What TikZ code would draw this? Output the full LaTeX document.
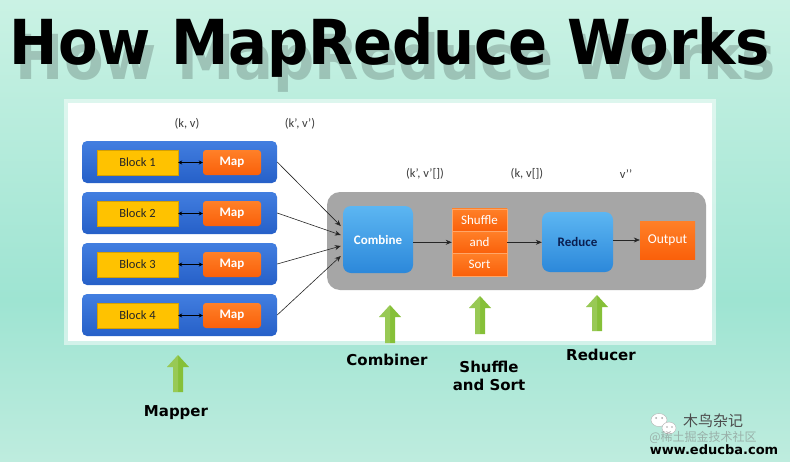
\documentclass[tikz,border=0pt]{standalone}
\usepackage{fontspec}
\usepackage{graphicx}
\setmainfont{Carlito}
\newfontfamily\titlefont{DejaVu Sans}
\newfontfamily\cjk{Noto Sans CJK SC}
\usetikzlibrary{arrows.meta,calc}
\definecolor{bgT}{RGB}{202,242,228}
\definecolor{bgM}{RGB}{158,228,210}
\definecolor{bgB}{RGB}{190,236,222}
\definecolor{mblueT}{RGB}{66,126,224}
\definecolor{mblueB}{RGB}{38,96,200}
\definecolor{yel}{RGB}{255,194,0}
\definecolor{yelD}{RGB}{214,160,0}
\definecolor{orgT}{RGB}{255,128,40}
\definecolor{orgB}{RGB}{250,96,10}
\definecolor{cblueT}{RGB}{92,182,242}
\definecolor{cblueB}{RGB}{44,136,218}
\definecolor{grayc}{RGB}{166,166,166}
\definecolor{grn}{RGB}{134,192,56}
\definecolor{lbl}{RGB}{60,60,60}
\tikzset{
  mapperbox/.style={rounded corners=5pt, minimum width=195pt, minimum height=42pt, inner sep=0pt, top color=mblueT, bottom color=mblueB},
  blockbox/.style={fill=yel, draw=yelD, line width=0.4pt, minimum width=81pt, minimum height=25pt, inner sep=0pt, font=\fontsize{12.5}{14}\selectfont, text=black!85},
  mapnode/.style={top color=orgT, bottom color=orgB, rounded corners=3pt, minimum width=58pt, minimum height=25pt, inner sep=0pt, font=\bfseries\fontsize{13}{14}\selectfont, text=white},
  dbl/.style={{Stealth[length=4pt,width=4pt]}-{Stealth[length=4pt,width=4pt]}, line width=1.1pt, black},
  arr/.style={-{Stealth[length=6pt,width=5pt]}, line width=0.6pt, black!85},
  graybox/.style={fill=grayc, rounded corners=13pt, minimum width=379pt, minimum height=98pt, inner sep=0pt},
  bluebox/.style={top color=cblueT, bottom color=cblueB, rounded corners=8pt, inner sep=0pt, font=\bfseries\fontsize{13}{15}\selectfont},
  orgcell/.style={top color=orgT, bottom color=orgB, draw=orgT!70!white, line width=0.5pt, minimum width=55pt, minimum height=22.3pt, inner sep=0pt, text=white, font=\fontsize{13}{14}\selectfont},
  kv/.style={font=\fontsize{12.5}{14}\selectfont, text=lbl},
  biglbl/.style={font=\titlefont\bfseries\fontsize{15}{18}\selectfont, text=black, align=center},
  titlestyle/.style={font=\titlefont\bfseries\fontsize{62}{70}\selectfont, anchor=base, inner sep=0pt},
}
\newcommand{\greenup}[3]{% x, top, bottom
  \fill[grn] (#1,#2) -- (#1+11,#2+12) -- (#1+5,#2+12) -- (#1+5,#3) -- (#1-5,#3) -- (#1-5,#2+12) -- (#1-11,#2+12) -- cycle;
  \fill[white,opacity=0.15] (#1,#2) -- (#1-11,#2+12) -- (#1-5,#2+12) -- (#1-5,#3) -- (#1,#3) -- cycle;}
\begin{document}
\begin{tikzpicture}[x=1pt,y=-1pt]
\useasboundingbox (0,0) rectangle (790,461);
% background
\shade[top color=bgT, bottom color=bgM] (0,0) rectangle (790,300);
\shade[top color=bgM, bottom color=bgB] (0,300) rectangle (790,461);
% white panel
\fill[white,opacity=0.5] (64,99) rectangle (716,345);
\fill[white] (68,103) rectangle (712,341);
% title shadow (blurred copy)
\node[titlestyle, text=black, opacity=0.18] (tshadow) at (396,79) {\scalebox{0.93}[1]{How MapReduce Works}};
\node[titlestyle, text=black] (title) at (390,64) {\scalebox{0.93}[1]{How MapReduce Works}};
% mappers
\foreach \i/\y in {1/162,2/213,3/264,4/315} {
  \node[mapperbox] (m\i) at (179.5,\y) {};
  \node[blockbox] (b\i) at (137.5,\y+0.5) {Block \i};
  \node[mapnode] (p\i) at (232,\y+0.5) {Map};
  \draw[dbl] (b\i) -- (p\i);
}
\node[kv] (kv1) at (187,124) {(k, v)};
\node[kv] (kv2) at (300,124) {(k’, v’)};
% container
\node[graybox] (cont) at (516.5,241) {};
\node[bluebox, minimum width=70pt, minimum height=67pt, text=white] (comb) at (378,239.5) {Combine};
\node[orgcell] (sh1) at (479.5,220) {Shuffle};
\node[orgcell] (sh2) at (479.5,242.3) {and};
\node[orgcell] (sh3) at (479.5,264.6) {Sort};
\node[bluebox, minimum width=71pt, minimum height=60pt, text={rgb,255:red,10;green,30;blue,80}] (red) at (577.5,242) {Reduce};
\node[top color=orgT, bottom color=orgB, minimum width=55pt, minimum height=38pt, inner sep=0pt, text=white, font=\fontsize{13.5}{15}\selectfont] (out) at (667.5,240) {Output};
\draw[arr] (sh2.west -| comb.east) -- (sh2.west);
\draw[arr] (sh2.east) -- (red.west |- sh2.east);
\draw[arr] (out.west -| red.east) -- (out.west);
\node[kv] (kv3) at (425,174) {(k’, v’[])};
\node[kv] (kv4) at (527,174) {(k, v[])};
\node[kv] (kv5) at (626,174) {v’’};
% mapper -> combine
\draw[arr] (m1.east) -- ([xshift=-2pt,yshift=13.5pt]comb.west);
\draw[arr] (m2.east) -- ([xshift=-2pt,yshift=4.5pt]comb.west);
\draw[arr] (m3.east) -- ([xshift=-2pt,yshift=-6.5pt]comb.west);
\draw[arr] (m4.east) -- ([xshift=-2pt,yshift=-16.5pt]comb.west);
% green arrows and labels
\greenup{178}{355}{392}
\greenup{390}{305}{343}
\greenup{480}{296}{334}
\greenup{597}{295}{331}
\node[biglbl] (lm) at (176,413) {Mapper};
\node[biglbl] (lc) at (387,360) {Combiner};
\node[biglbl] (ls) at (489,376) {Shuffle\\and Sort};
\node[biglbl] (lr) at (601,355) {Reducer};
% watermark
\fill[white, draw=gray!60, line width=0.4pt] (659,420) ellipse (8pt and 6.5pt);
\fill[white, draw=gray!60, line width=0.4pt] (669,428) ellipse (7pt and 6pt);
\fill[gray!70] (656,418) circle (1pt) (662,418) circle (1pt) (667,427) circle (0.9pt) (672,427) circle (0.9pt);
\node[font=\cjk\fontsize{15}{17}\selectfont, text=black!70] (wm1) at (713,421) {木鸟杂记};
\node[font=\cjk\fontsize{12}{14}\selectfont, text=gray, opacity=0.55] (wm2) at (703,437) {@稀土掘金技术社区};
\node[font=\titlefont\bfseries\fontsize{13}{15}\selectfont, text=black] (wm3) at (714,450) {www.educba.com};
\end{tikzpicture}
\end{document}
